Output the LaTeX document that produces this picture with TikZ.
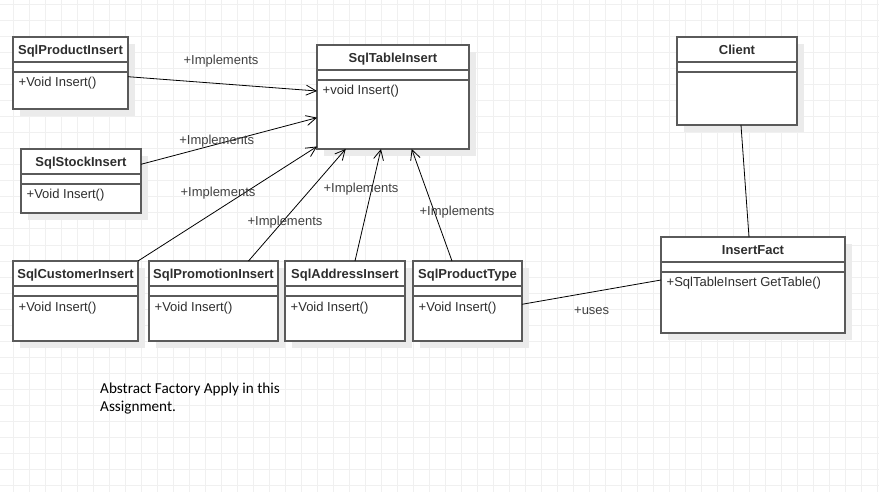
\documentclass[tikz,border=0pt]{standalone}
\usepackage{fontspec}
\setmainfont{Liberation Sans}
\newfontfamily\notefont{Carlito}
\usetikzlibrary{arrows.meta}
\definecolor{gridc}{HTML}{F0F0F0}
\definecolor{shadowc}{HTML}{EBEBEB}
\definecolor{borderc}{HTML}{5A5A5A}
\definecolor{textc}{HTML}{2E2E2E}
\definecolor{labelc}{HTML}{404040}
\tikzset{
 classbox/.style={draw=borderc, line width=1.5pt, fill=white, rectangle, inner sep=0pt, outer sep=0pt},
 sepline/.style={draw=borderc, line width=1.5pt},
 titletext/.style={font=\fontsize{13}{15}\selectfont\bfseries, text=textc, inner sep=0pt, anchor=base},
 membertext/.style={font=\fontsize{13}{15}\selectfont, text=textc, inner sep=0pt, anchor=base west},
 lbl/.style={font=\fontsize{13}{15}\selectfont, text=labelc, inner sep=0pt},
 impl/.style={draw=black, line width=0.8pt, -{Straight Barb[length=10pt, width=10pt, line width=0.8pt]}},
 assoc/.style={draw=black, line width=0.8pt},
 notetext/.style={font=\notefont\fontsize{15.2}{18}\selectfont, text=black, inner sep=0pt, anchor=base west},
 gridline/.style={draw=gridc, line width=1pt}
}
% name, x1, y1, x2, y2, title, member
\newcommand\umlclass[7]{%
 \fill[shadowc] (#2+7,#3+7) rectangle (#4+7,#5+7);
 \node[classbox, minimum width={#4-#2}, minimum height={#5-#3}] (#1) at ({(#2+#4)/2},{(#3+#5)/2}) {};
 \draw[sepline] ([yshift=-25pt]#1.north west) -- ([yshift=-25pt]#1.north east);
 \draw[sepline] ([yshift=-35pt]#1.north west) -- ([yshift=-35pt]#1.north east);
 \node[titletext] (#1t) at ([yshift=-17.5pt]#1.north) {#6};
 \node[membertext] (#1m) at ([xshift=5.5pt,yshift=-50pt]#1.north west) {#7};
}
\begin{document}
\begin{tikzpicture}[x=1pt,y=-1pt]
\useasboundingbox (0,0) rectangle (879,492);
\fill[white] (0,0) rectangle (879,492);
\foreach \gx in {13,29,...,877} \draw[gridline] (\gx,0) -- (\gx,492);
\foreach \gy in {5,21,...,485} \draw[gridline] (0,\gy) -- (879,\gy);

\umlclass{pi}{13}{37}{128}{109}{SqlProductInsert}{+Void Insert()}
\umlclass{ti}{317}{45}{469}{149}{SqlTableInsert}{+void Insert()}
\umlclass{si}{21}{149}{141}{213}{SqlStockInsert}{+Void Insert()}
\umlclass{cu}{13}{261}{138}{341}{SqlCustomerInsert}{+Void Insert()}
\umlclass{pr}{149}{261}{278}{341}{SqlPromotionInsert}{+Void Insert()}
\umlclass{ad}{285}{261}{405}{341}{SqlAddressInsert}{+Void Insert()}
\umlclass{pt}{413}{261}{522}{341}{SqlProductType}{+Void Insert()}
\umlclass{cl}{677}{37}{797}{125}{Client}{}
\umlclass{if}{661}{237}{845}{333}{InsertFact}{+SqlTableInsert GetTable()}

\draw[impl] ([yshift=-3.7pt]pi.east) -- ([yshift=6pt]ti.west);
\draw[impl] ([yshift=16.7pt]si.east) -- ([yshift=-20.7pt]ti.west);
\draw[impl] (cu.north east) -- ([yshift=2.5pt]ti.south west);
\draw[impl] ([xshift=35pt]pr.north) -- ([xshift=-47.3pt]ti.south);
\draw[impl] ([xshift=10pt]ad.north) -- ([xshift=-12pt]ti.south);
\draw[impl] ([xshift=-15.5pt]pt.north) -- ([xshift=18.7pt]ti.south);
\draw[assoc] ([xshift=4pt]cl.south) -- ([xshift=-4pt]if.north);
\draw[assoc] ([yshift=-3.3pt]pt.east) -- ([yshift=5pt]if.west);

\node[lbl] (l1) at (221,61) {+Implements};
\node[lbl] (l2) at (216.7,141) {+Implements};
\node[lbl] (l3) at (218,193.2) {+Implements};
\node[lbl] (l4) at (285,222.2) {+Implements};
\node[lbl] (l5) at (361,189) {+Implements};
\node[lbl] (l6) at (457,212.2) {+Implements};
\node[lbl] (l7) at (591.7,311) {+uses};

\node[notetext] (n1) at (100,393.7) {Abstract Factory Apply in this};
\node[notetext] (n2) at (100,411.7) {Assignment.};
\end{tikzpicture}
\end{document}
